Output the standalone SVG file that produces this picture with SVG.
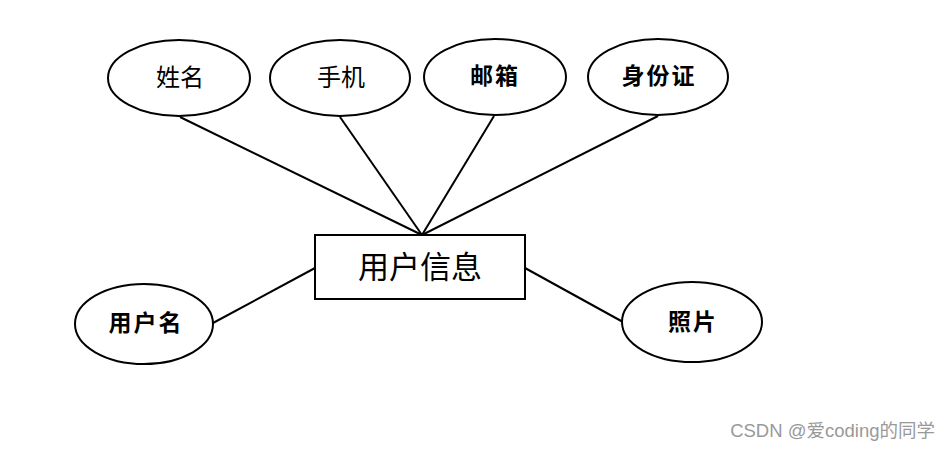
<svg xmlns="http://www.w3.org/2000/svg" width="950" height="450" viewBox="0 0 950 450">
<style>
.shape{fill:#fff;stroke:#000;stroke-width:2}
.t{font-family:"Liberation Sans","Noto Sans CJK SC",sans-serif;fill:#000;text-anchor:middle;dominant-baseline:central}
.n{font-size:24px}
.b{font-size:23px;font-weight:bold;letter-spacing:2px}
.conn line{stroke:#000;stroke-width:2}
</style>
<rect width="950" height="450" fill="#fff"/>
<g class="conn" id="connectors">
<line x1="180" y1="117" x2="422" y2="235"/>
<line x1="340" y1="117" x2="422" y2="235"/>
<line x1="494" y1="116" x2="422" y2="235"/>
<line x1="658" y1="116" x2="422" y2="235"/>
<line x1="213" y1="323" x2="315" y2="268"/>
<line x1="525" y1="268" x2="623" y2="322"/>
</g>
<g id="node-xingming"><ellipse class="shape" cx="179" cy="78" rx="71" ry="38"/><text class="t n" x="180" y="77">姓名</text></g>
<g id="node-shouji"><ellipse class="shape" cx="340" cy="78" rx="70" ry="38"/><text class="t n" x="341" y="77">手机</text></g>
<g id="node-youxiang"><ellipse class="shape" cx="495" cy="77" rx="71" ry="38"/><text class="t b" x="495" y="76">邮箱</text></g>
<g id="node-shenfenzheng"><ellipse class="shape" cx="658" cy="77" rx="70" ry="38"/><text class="t b" x="659" y="76">身份证</text></g>
<g id="node-yonghuxinxi"><rect class="shape" x="315" y="235" width="210" height="64"/><text class="t" x="420" y="267" style="font-size:31px">用户信息</text></g>
<g id="node-yonghuming"><ellipse class="shape" cx="144" cy="324" rx="69" ry="40"/><text class="t b" x="146" y="323">用户名</text></g>
<g id="node-zhaopian"><ellipse class="shape" cx="692" cy="322" rx="70" ry="40"/><text class="t b" x="693" y="322">照片</text></g>
<text x="935" y="437" style="font-family:'Liberation Sans','Noto Sans CJK SC',sans-serif;font-size:18.5px;fill:#999;text-anchor:end">CSDN @爱coding的同学</text>
</svg>
